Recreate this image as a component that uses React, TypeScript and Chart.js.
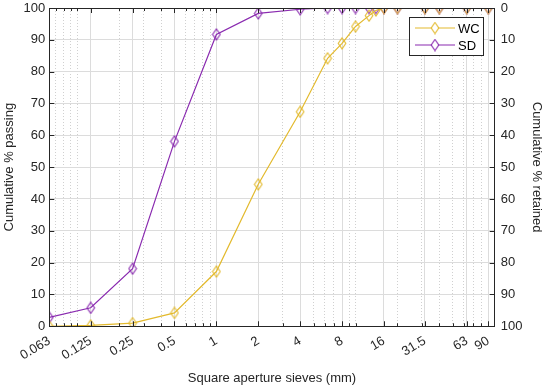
import React, { useEffect, useRef } from "react";
import { Chart, registerables } from "chart.js";

Chart.register(...registerables);

const sieves = [0.063, 0.125, 0.25, 0.5, 1, 2, 4, 6.3, 8, 10, 12.5, 14, 16, 20, 31.5, 40, 63, 90];
const wcPassing = [0, 0.3, 1.0, 4.2, 17.2, 44.6, 67.4, 84.2, 88.9, 94.2, 97.6, 99.2, 100, 100, 100, 100, 100, 100];
const sdPassing = [2.8, 5.8, 18.1, 58.1, 91.7, 98.3, 99.6, 100, 100, 100, 100, 100, 100, 100, 100, 100, 100, 100];

const xTickValues = [0.063, 0.125, 0.25, 0.5, 1, 2, 4, 8, 16, 31.5, 63, 90];
const xTickLabels = ["0.063", "0.125", "0.25", "0.5", "1", "2", "4", "8", "16", "31.5", "63", "90"];
const xMinorValues = [0.07, 0.08, 0.09, 0.1, 0.2, 0.3, 0.4, 0.6, 0.7, 0.8, 0.9, 3, 5, 6, 7, 9, 10, 20, 30, 40, 50, 60, 70, 80];
const yTickValues = [0, 10, 20, 30, 40, 50, 60, 70, 80, 90, 100];

const WC_COLOR = "#E3BA2E";
const SD_COLOR = "#8A2BB0";
const FONT = "'Liberation Sans', Arial, Helvetica, sans-serif";

function makeDiamond(color: string) {
  const c = document.createElement("canvas");
  c.width = 10;
  c.height = 13;
  const ctx = c.getContext("2d")!;
  ctx.strokeStyle = color;
  ctx.lineWidth = 1.1;
  ctx.beginPath();
  ctx.moveTo(5, 1);
  ctx.lineTo(8.8, 6.5);
  ctx.lineTo(5, 12);
  ctx.lineTo(1.2, 6.5);
  ctx.closePath();
  ctx.stroke();
  return c;
}

const frameAndLegend = {
  id: "frameAndLegend",
  afterDraw(chart: any) {
    const { ctx, chartArea: a, scales } = chart;
    const x = scales.x;
    const y = scales.y;
    const y2 = scales.y2;
    ctx.save();
    ctx.strokeStyle = "#262626";
    ctx.lineWidth = 1;
    ctx.strokeRect(Math.round(a.left) + 0.5, Math.round(a.top) + 0.5, Math.round(a.right - a.left), Math.round(a.bottom - a.top));
    ctx.beginPath();
    xTickValues.forEach((v) => {
      const px = Math.round(x.getPixelForValue(v)) + 0.5;
      ctx.moveTo(px, a.bottom);
      ctx.lineTo(px, a.bottom - 5);
      ctx.moveTo(px, a.top);
      ctx.lineTo(px, a.top + 5);
    });
    xMinorValues.forEach((v) => {
      const px = Math.round(x.getPixelForValue(v)) + 0.5;
      ctx.moveTo(px, a.bottom);
      ctx.lineTo(px, a.bottom - 3);
      ctx.moveTo(px, a.top);
      ctx.lineTo(px, a.top + 3);
    });
    yTickValues.forEach((v) => {
      const py = Math.round(y.getPixelForValue(v)) + 0.5;
      ctx.moveTo(a.left, py);
      ctx.lineTo(a.left + 5, py);
      const py2 = Math.round(y2.getPixelForValue(v)) + 0.5;
      ctx.moveTo(a.right, py2);
      ctx.lineTo(a.right - 5, py2);
    });
    ctx.stroke();

    // legend
    const bx = Math.round(a.right) - 86;
    const by = Math.round(a.top) + 9;
    const bw = 74;
    const bh = 38;
    ctx.fillStyle = "#ffffff";
    ctx.fillRect(bx, by, bw, bh);
    ctx.strokeStyle = "#262626";
    ctx.strokeRect(bx + 0.5, by + 0.5, bw, bh);
    ctx.font = `13px ${FONT}`;
    ctx.textBaseline = "middle";
    chart.data.datasets.forEach((ds: any, i: number) => {
      const cy = by + 11 + i * 17;
      ctx.strokeStyle = ds.borderColor;
      ctx.lineWidth = 1.2;
      ctx.beginPath();
      ctx.moveTo(bx + 6, cy);
      ctx.lineTo(bx + 46, cy);
      ctx.stroke();
      const img = ds.pointStyle;
      ctx.fillStyle = "#ffffff";
      ctx.fillRect(bx + 26 - 3, cy - 4, 6, 8);
      ctx.drawImage(img, bx + 26 - img.width / 2, cy - img.height / 2);
      ctx.fillStyle = "#000000";
      ctx.fillText(ds.label, bx + 49, cy + 1);
    });
    ctx.restore();
  },
};

export default function App() {
  const ref = useRef<HTMLCanvasElement | null>(null);

  useEffect(() => {
    if (!ref.current) return;
    const wcData = sieves.map((s, i) => ({ x: s, y: wcPassing[i] }));
    const sdData = sieves.map((s, i) => ({ x: s, y: sdPassing[i] }));
    const chart = new Chart(ref.current, {
      type: "line",
      data: {
        datasets: [
          {
            label: "WC",
            data: wcData,
            borderColor: WC_COLOR,
            backgroundColor: WC_COLOR,
            borderWidth: 1.2,
            pointStyle: makeDiamond(WC_COLOR) as any,
            pointRadius: 5,
            tension: 0,
            xAxisID: "x",
            yAxisID: "y",
          },
          {
            label: "SD",
            data: sdData,
            borderColor: SD_COLOR,
            backgroundColor: SD_COLOR,
            borderWidth: 1.2,
            pointStyle: makeDiamond(SD_COLOR) as any,
            pointRadius: 5,
            tension: 0,
            xAxisID: "x",
            yAxisID: "y",
          },
        ],
      },
      options: {
        animation: false,
        responsive: true,
        maintainAspectRatio: false,
        layout: { padding: { left: 2, right: 0, top: 0, bottom: 4 } },
        plugins: {
          legend: { display: false },
          tooltip: { enabled: false },
        },
        scales: {
          x: {
            type: "logarithmic",
            position: "bottom",
            min: 0.063,
            max: 100,
            afterBuildTicks: (s: any) => {
              s.ticks = xTickValues.map((v) => ({ value: v }));
            },
            ticks: {
              autoSkip: false,
              maxRotation: 31,
              minRotation: 31,
              color: "#262626",
              font: { family: FONT, size: 13 },
              padding: 7,
              callback: (v: any) => {
                const i = xTickValues.indexOf(Number(v));
                return i >= 0 ? xTickLabels[i] : "";
              },
            },
            grid: { color: "#dcdcdc", lineWidth: 1, drawTicks: false },
            border: { display: false },
            title: {
              display: true,
              text: "Square aperture sieves (mm)",
              color: "#262626",
              font: { family: FONT, size: 13 },
              padding: { top: 0, bottom: 0 },
            },
          },
          xMinor: {
            type: "logarithmic",
            position: "top",
            min: 0.063,
            max: 100,
            afterBuildTicks: (s: any) => {
              s.ticks = xMinorValues.map((v) => ({ value: v }));
            },
            afterFit: (s: any) => {
              s.height = 0;
              s.paddingTop = 0;
              s.paddingBottom = 0;
            },
            ticks: { display: false, padding: 0 },
            grid: { color: "#d0d0d0", lineWidth: 1, drawTicks: false, borderDash: [1, 2] } as any,
            border: { display: false, dash: [1, 2] },
          },
          y: {
            type: "linear",
            position: "left",
            min: 0,
            max: 100,
            afterBuildTicks: (s: any) => {
              s.ticks = yTickValues.map((v) => ({ value: v }));
            },
            afterFit: (s: any) => {
              s.paddingTop = 8;
            },
            ticks: {
              color: "#262626",
              font: { family: FONT, size: 13 },
              padding: 4,
            },
            grid: { color: "#dcdcdc", lineWidth: 1, drawTicks: false },
            border: { display: false },
            title: {
              display: true,
              text: "Cumulative % passing",
              color: "#262626",
              font: { family: FONT, size: 13 },
              padding: { top: 0, bottom: 2 },
            },
          },
          y2: {
            type: "linear",
            position: "right",
            reverse: true,
            min: 0,
            max: 100,
            afterBuildTicks: (s: any) => {
              s.ticks = yTickValues.map((v) => ({ value: v }));
            },
            afterFit: (s: any) => {
              s.paddingTop = 8;
            },
            ticks: {
              color: "#262626",
              font: { family: FONT, size: 13 },
              padding: 6,
            },
            grid: { display: false, drawTicks: false },
            border: { display: false },
            title: {
              display: true,
              text: "Cumulative % retained",
              color: "#262626",
              font: { family: FONT, size: 13 },
              padding: { top: 6, bottom: 0 },
            },
          },
        },
      },
      plugins: [frameAndLegend],
    });
    return () => chart.destroy();
  }, []);

  return (
    <div style={{ position: "fixed", left: 0, top: 0, width: 550, height: 390, background: "#ffffff" }}>
      <canvas ref={ref} />
    </div>
  );
}
